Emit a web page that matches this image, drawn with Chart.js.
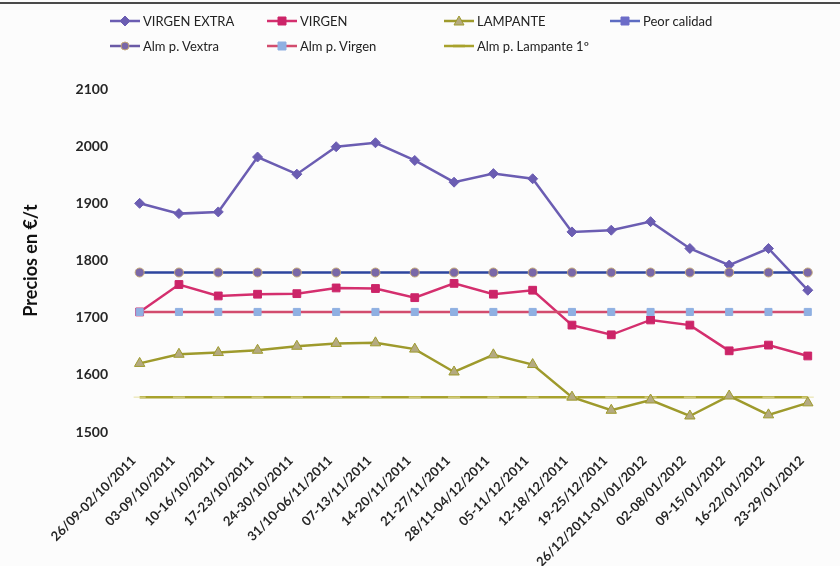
<!DOCTYPE html>
<html>
<head>
<meta charset="utf-8">
<script src="https://cdn.jsdelivr.net/npm/chart.js@4.4.1/dist/chart.umd.min.js"></script>
<style>
  html, body { margin: 0; padding: 0; background: #fff; }
  #wrap { position: relative; width: 840px; height: 566px; background: #fcfcfc; overflow: hidden; }
  #topline { position: absolute; left: 0; top: 2px; width: 840px; height: 2px; background: #4a4a4a; }
  #legend { position: absolute; left: 0; top: 0; width: 840px; height: 60px; font-family: Lato, sans-serif; font-size: 13px; color: #222; }
  .item { position: absolute; height: 18px; display: flex; align-items: center; white-space: nowrap; }
  .item canvas { margin-right: 2px; }
</style>
</head>
<body>
<div id="wrap">
  <canvas id="chart" width="840" height="566"></canvas>
  <div id="topline"></div>
  <div id="legend"></div>
</div>
<script>
// semanas (campaña 2011/12)
const weeks = [
  "26/09-02/10/2011", "03-09/10/2011", "10-16/10/2011", "17-23/10/2011",
  "24-30/10/2011", "31/10-06/11/2011", "07-13/11/2011", "14-20/11/2011",
  "21-27/11/2011", "28/11-04/12/2011", "05-11/12/2011", "12-18/12/2011",
  "19-25/12/2011", "26/12/2011-01/01/2012", "02-08/01/2012", "09-15/01/2012",
  "16-22/01/2012", "23-29/01/2012"
];

// precios en €/t
const virgenExtra = [1900, 1882, 1885, 1981, 1951, 1999, 2006, 1975, 1937, 1952, 1943, 1850, 1853, 1868, 1821, 1792, 1821, 1748];
const virgen      = [1710, 1758, 1738, 1741, 1742, 1752, 1751, 1735, 1760, 1741, 1748, 1687, 1670, 1696, 1687, 1642, 1652, 1633];
const lampante    = [1620, 1636, 1639, 1643, 1650, 1655, 1656, 1645, 1605, 1635, 1618, 1561, 1538, 1556, 1528, 1563, 1530, 1551];
const peorCalidad = [];

// umbrales de almacenamiento privado
const almVextra   = [1779, 1779, 1779, 1779, 1779, 1779, 1779, 1779, 1779, 1779, 1779, 1779, 1779, 1779, 1779, 1779, 1779, 1779];
const almVirgen   = [1710, 1710, 1710, 1710, 1710, 1710, 1710, 1710, 1710, 1710, 1710, 1710, 1710, 1710, 1710, 1710, 1710, 1710];
const almLampante = [1561, 1561, 1561, 1561, 1561, 1561, 1561, 1561, 1561, 1561, 1561, 1561, 1561, 1561, 1561, 1561, 1561, 1561];

const yTicks = [1500, 1600, 1700, 1800, 1900, 2000, 2100];

const series = [
  { label: "VIRGEN EXTRA", data: virgenExtra, line: "#6b5db2", fill: "#6b5db2", edge: "#6b5db2", shape: "rectRot", r: 5, order: 2 },
  { label: "VIRGEN", data: virgen, line: "#d42f6e", fill: "#cc2468", edge: "#cc2468", shape: "rect", r: 5.5, order: 2 },
  { label: "LAMPANTE", data: lampante, line: "#9e9a2c", fill: "#b4aa80", edge: "#9e9a2c", shape: "triangle", r: 6, order: 2 },
  { label: "Peor calidad", data: peorCalidad, line: "#5d6cc2", fill: "#6c6cc8", edge: "#6c6cc8", shape: "rect", r: 5, order: 2 },
  { label: "Alm p. Vextra", data: almVextra, line: "#2d459e", legendLine: "#6a5aa6", fill: "#7a68a8", edge: "#c4a878", shape: "circle", r: 4.5, order: 1 },
  { label: "Alm p. Virgen", data: almVirgen, line: "#d24c6e", fill: "#8fb0e2", edge: "#8fb0e2", shape: "rect", r: 5, order: 1 },
  { label: "Alm p. Lampante 1º", data: almLampante, line: "#a8a22c", fill: "#e6e0a0", edge: "#e6e0a0", shape: "line", r: 6, order: 3 }
];

function drawSymbol(c, s) {
  const g = c.getContext("2d");
  g.strokeStyle = s.legendLine || s.line;
  g.lineWidth = 2.5;
  g.beginPath(); g.moveTo(1, 9); g.lineTo(31, 9); g.stroke();
  const x = 16, y = 9;
  g.fillStyle = s.fill; g.strokeStyle = s.edge; g.lineWidth = 1;
  g.beginPath();
  if (s.shape === "rectRot") {
    g.moveTo(x, y - 5); g.lineTo(x + 5, y); g.lineTo(x, y + 5); g.lineTo(x - 5, y); g.closePath();
  } else if (s.shape === "rect") {
    g.rect(x - 4, y - 4, 8, 8);
  } else if (s.shape === "triangle") {
    g.moveTo(x, y - 5); g.lineTo(x + 5, y + 4); g.lineTo(x - 5, y + 4); g.closePath();
  } else if (s.shape === "circle") {
    g.arc(x, y, 4, 0, Math.PI * 2);
  } else {
    g.strokeStyle = s.line; g.lineWidth = 2.5;
    g.moveTo(x - 6, y); g.lineTo(x + 6, y); g.stroke();
    return;
  }
  g.fill(); g.stroke();
}

// leyenda en 4 columnas, 2 filas
const colX = [143, 300, 477, 643];
const rowY = [21, 46];
const legend = document.getElementById("legend");
series.forEach((s, i) => {
  const div = document.createElement("div");
  div.className = "item";
  div.style.left = (colX[i % 4] - 34) + "px";
  div.style.top = (rowY[Math.floor(i / 4)] - 9) + "px";
  const c = document.createElement("canvas");
  c.width = 32; c.height = 18;
  drawSymbol(c, s);
  div.appendChild(c);
  const span = document.createElement("span");
  span.textContent = s.label;
  div.appendChild(span);
  legend.appendChild(div);
});

const ctx = document.getElementById("chart").getContext("2d");
new Chart(ctx, {
  type: "line",
  data: {
    labels: weeks,
    datasets: series.map(s => ({
      label: s.label,
      data: s.data,
      borderColor: s.line,
      backgroundColor: s.fill,
      borderWidth: 2.5,
      tension: 0,
      fill: false,
      pointStyle: s.shape,
      pointRadius: s.r,
      pointBackgroundColor: s.fill,
      pointBorderColor: s.edge,
      pointBorderWidth: 1,
      order: s.order
    }))
  },
  options: {
    responsive: false,
    devicePixelRatio: 1,
    animation: false,
    layout: { padding: { top: 89, right: 5, left: 0, bottom: 0 } },
    plugins: {
      legend: { display: false },
      tooltip: { enabled: false }
    },
    scales: {
      x: {
        offset: true,
        grid: { display: false, drawTicks: false },
        border: { display: false },
        ticks: {
          autoSkip: false,
          maxRotation: 45,
          minRotation: 45,
          padding: 21,
          labelOffset: -6,
          color: "#262626",
          font: { family: "Lato", size: 13, weight: "bold" }
        },
        afterFit: scale => { scale.height = 134; }
      },
      y: {
        min: yTicks[0],
        max: yTicks[yTicks.length - 1],
        grid: { display: false, drawTicks: false },
        border: { display: false },
        ticks: {
          stepSize: 100,
          padding: 12,
          color: "#262626",
          font: { family: "Lato", size: 14, weight: "bold" },
          callback: v => String(v)
        },
        title: {
          display: true,
          text: "Precios en €/t",
          color: "#111",
          font: { family: "Lato", size: 18, weight: "bold" },
          padding: { top: 20, bottom: 0 }
        },
        afterFit: scale => { scale.width = 120; }
      }
    }
  }
});
</script>
</body>
</html>
